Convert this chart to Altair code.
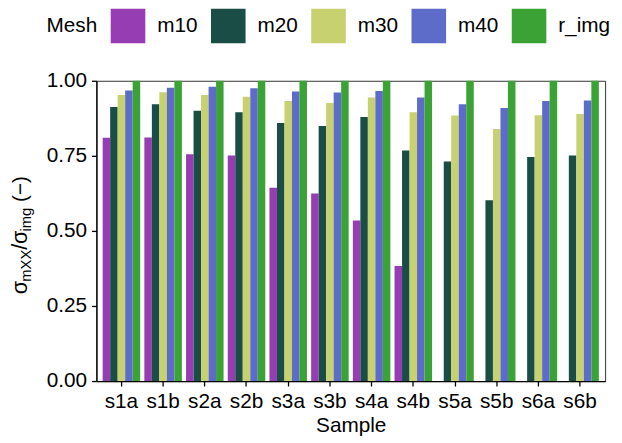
import altair as alt
import pandas as pd

samples = ["s1a", "s1b", "s2a", "s2b", "s3a", "s3b", "s4a", "s4b", "s5a", "s5b", "s6a", "s6b"]
meshes = ["m10", "m20", "m30", "m40", "r_img"]
colors = ["#963DB3", "#1A4D45", "#C8D170", "#5C6CC8", "#3BA336"]

m10 = [0.810, 0.811, 0.755, 0.751, 0.644, 0.625, 0.535, 0.383, None, None, None, None]
m20 = [0.913, 0.922, 0.900, 0.895, 0.859, 0.849, 0.879, 0.768, 0.731, 0.602, 0.746, 0.751]
m30 = [0.953, 0.962, 0.953, 0.947, 0.933, 0.926, 0.944, 0.895, 0.884, 0.839, 0.885, 0.889]
m40 = [0.968, 0.977, 0.980, 0.975, 0.964, 0.961, 0.966, 0.944, 0.922, 0.909, 0.933, 0.934]
r_img = [1.0] * 12

series = {"m10": m10, "m20": m20, "m30": m30, "m40": m40, "r_img": r_img}
rows = []
for mesh, vals in series.items():
    for s, v in zip(samples, vals):
        if v is not None:
            rows.append({"Sample": s, "Mesh": mesh, "value": v})
df = pd.DataFrame(rows)

FONT = "Liberation Sans"

bars = alt.Chart(df).mark_bar(strokeWidth=0).encode(
    x=alt.X("Sample:N", sort=samples,
            scale=alt.Scale(paddingInner=0, paddingOuter=0.1),
            axis=alt.Axis(title="Sample", labelAngle=0, tickSize=5, labelPadding=5,
                          titlePadding=3)),
    xOffset=alt.XOffset("Mesh:N", sort=meshes,
                        scale=alt.Scale(paddingInner=0, paddingOuter=0.278)),
    y=alt.Y("value:Q", scale=alt.Scale(domain=[0, 1], nice=False, zero=True),
            axis=alt.Axis(title=None, values=[0, 0.25, 0.5, 0.75, 1], format=".2f",
                          tickSize=5, labelPadding=5)),
    color=alt.Color("Mesh:N", sort=meshes,
                    scale=alt.Scale(domain=meshes, range=colors),
                    legend=alt.Legend(orient="none", direction="horizontal",
                                      legendX=-50.5, legendY=-73,
                                      titleOrient="left", titleAnchor="middle",
                                      titleBaseline="middle", titlePadding=13,
                                      symbolType="square", symbolSize=1225,
                                      symbolStrokeWidth=0, labelOffset=12,
                                      columnPadding=13.5, padding=0,
                                      labelFontSize=21, titleFontSize=21,
                                      titleFontWeight="normal", labelColor="black",
                                      titleColor="black", labelFont=FONT, titleFont=FONT)),
)

# y-axis title with subscripts, built from text pieces
title_pieces = ["σ", "mXX", "/", "σ", "img", "(−)"]
title_sizes = [22, 15, 22, 22, 15, 21]
title_widths = [12.5, 32.5, 5.8, 12.5, 24.2, 37.9]
title_shift = [0, 4, 0, 0, 4, 0]
gaps = [0, 0, 0, 0, 0, 5.8]

layers = [bars]
pos = 216.0
for txt, fs, w, sh, g in zip(title_pieces, title_sizes, title_widths, title_shift, gaps):
    pos -= g
    layers.append(
        alt.Chart(pd.DataFrame({"t": [txt]})).mark_text(
            angle=270, align="left", baseline="alphabetic", fontSize=fs,
            font=FONT, color="black"
        ).encode(text="t:N", x=alt.value(-70.5 + sh), y=alt.value(pos))
    )
    pos -= (w - g)

chart = alt.layer(*layers).properties(
    width=515, height=304,
    autosize=alt.AutoSizeParams(type="none"),
    padding={"left": 89.5, "top": 71, "right": 9, "bottom": 57},
).configure_view(
    stroke="#333333", strokeWidth=1
).configure_axis(
    grid=False, domainColor="black", domainWidth=1.3, tickColor="black", tickWidth=1.3,
    labelFontSize=21, titleFontSize=21, labelColor="black", titleColor="black",
    labelFont=FONT, titleFont=FONT, titleFontWeight="normal"
)

chart.save("out.html", embed_options={"renderer": "svg", "actions": False})
